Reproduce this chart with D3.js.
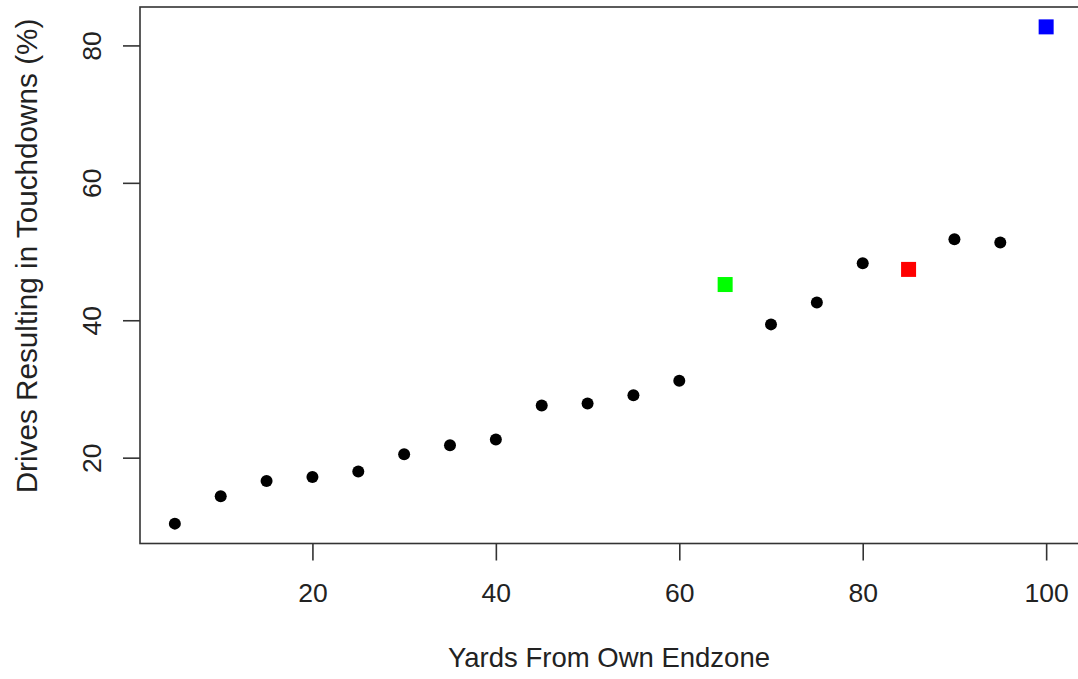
<!DOCTYPE html>
<html>
<head>
<meta charset="utf-8">
<script src="https://cdn.jsdelivr.net/npm/d3@7"></script>
<style>
  body { margin: 0; background: #fff; }
  svg { display: block; font-family: "Liberation Sans", Arial, sans-serif; }
</style>
</head>
<body>
<div id="chart"></div>
<script>
// Data
const yards = [5, 10, 15, 20, 25, 30, 35, 40, 45, 50, 55, 60, 70, 75, 80, 90, 95];
const tdPct = [10.4, 14.4, 16.6, 17.2, 18.0, 20.5, 21.8, 22.65, 27.6, 27.9, 29.1, 31.2, 39.4, 42.6, 48.3, 51.8, 51.3];

// Highlighted points drawn as squares
const specialYards = [65, 85, 100];
const specialPct = [45.2, 47.4, 82.7];
const specialColors = ["#00ff00", "#ff0000", "#0000ff"];

const xTicks = [20, 40, 60, 80, 100];
const yTicks = [20, 40, 60, 80];

// Dimensions
const W = 1078, H = 679;
const margin = { top: 7, left: 140 };
const plotW = 941, plotH = 536.5;

const svg = d3.select("#chart")
  .append("svg")
    .attr("width", W)
    .attr("height", H);

// R-style 4% padding on the data range
const allX = yards.concat(specialYards);
const allY = tdPct.concat(specialPct);
function padded(vals) {
  const [lo, hi] = d3.extent(vals);
  const p = (hi - lo) * 0.04;
  return [lo - p, hi + p];
}

const x = d3.scaleLinear().domain(padded(allX)).range([margin.left, margin.left + plotW]);
const y = d3.scaleLinear().domain(padded(allY)).range([margin.top + plotH, margin.top]);

// Plot box
svg.append("rect")
  .attr("x", margin.left)
  .attr("y", margin.top)
  .attr("width", plotW)
  .attr("height", plotH)
  .attr("fill", "none")
  .attr("stroke", "#333")
  .attr("stroke-width", 1.6);

// X axis
const xAxis = svg.append("g")
  .attr("transform", `translate(0, ${margin.top + plotH})`)
  .call(d3.axisBottom(x).tickValues(xTicks).tickSize(17).tickPadding(23).tickFormat(d3.format("d")));
xAxis.select(".domain").remove();
xAxis.selectAll("line").attr("stroke", "#333").attr("stroke-width", 1.6);
xAxis.selectAll("text").style("font-size", "26.5px").attr("fill", "#222");

// Y axis
const yAxis = svg.append("g")
  .attr("transform", `translate(${margin.left}, 0)`)
  .call(d3.axisLeft(y).tickValues(yTicks).tickSize(17).tickFormat(d3.format("d")));
yAxis.select(".domain").remove();
yAxis.selectAll("line").attr("stroke", "#333").attr("stroke-width", 1.6);
yAxis.selectAll("text")
  .attr("x", 0).attr("dy", 0)
  .attr("transform", "translate(-48, 0) rotate(-90)")
  .attr("text-anchor", "middle")
  .attr("dominant-baseline", "central")
  .style("font-size", "26.5px")
  .attr("fill", "#222");

// Black dots
svg.append("g")
  .selectAll("circle")
  .data(yards.map((d, i) => ({ x: d, y: tdPct[i] })))
  .enter()
  .append("circle")
    .attr("cx", d => x(d.x))
    .attr("cy", d => y(d.y))
    .attr("r", 6)
    .attr("fill", "#000");

// Coloured squares
const sq = 15;
svg.append("g")
  .selectAll("rect")
  .data(specialYards.map((d, i) => ({ x: d, y: specialPct[i], c: specialColors[i] })))
  .enter()
  .append("rect")
    .attr("x", d => x(d.x) - sq / 2)
    .attr("y", d => y(d.y) - sq / 2)
    .attr("width", sq)
    .attr("height", sq)
    .attr("fill", d => d.c);

// Axis titles
svg.append("text")
  .attr("x", 609)
  .attr("y", 667)
  .attr("text-anchor", "middle")
  .style("font-size", "27.5px")
  .attr("fill", "#222")
  .text("Yards From Own Endzone");

svg.append("text")
  .attr("transform", "translate(37, 256) rotate(-90)")
  .attr("text-anchor", "middle")
  .style("font-size", "29.7px")
  .attr("fill", "#222")
  .text("Drives Resulting in Touchdowns (%)");
</script>
</body>
</html>
